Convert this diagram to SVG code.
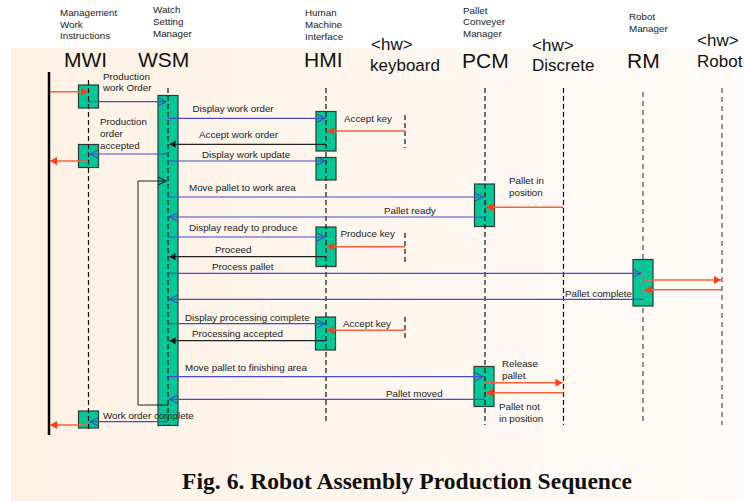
<svg xmlns="http://www.w3.org/2000/svg" width="744" height="501" viewBox="0 0 744 501">
<defs>
<linearGradient id="bg" x1="0" y1="0" x2="1" y2="0">
<stop offset="0" stop-color="#fdf1e4"/>
<stop offset="1" stop-color="#fffbf8"/>
</linearGradient>
<marker id="aOpen" markerUnits="userSpaceOnUse" markerWidth="12" markerHeight="12" refX="8" refY="4" orient="auto" overflow="visible">
<path d="M0,0 L8,4 L0,8" fill="none" stroke="#4848cc" stroke-width="1.1"/>
</marker>
<marker id="aOpenBlk" markerUnits="userSpaceOnUse" markerWidth="12" markerHeight="12" refX="8" refY="4" orient="auto" overflow="visible">
<path d="M0,0 L8,4 L0,8" fill="none" stroke="#222" stroke-width="1.1"/>
</marker>
<marker id="aRed" markerUnits="userSpaceOnUse" markerWidth="12" markerHeight="12" refX="7" refY="4" orient="auto" overflow="visible">
<path d="M0,0 L7,4 L0,8 Z" fill="#ff3c14"/>
</marker>
<marker id="aBlk" markerUnits="userSpaceOnUse" markerWidth="12" markerHeight="12" refX="6" refY="3.5" orient="auto" overflow="visible">
<path d="M0,0 L6,3.5 L0,7 Z" fill="#111"/>
</marker>
</defs>
<style>
.sm{font-family:"Liberation Sans",Arial,sans-serif;font-size:9.8px;fill:#222}
.big{font-family:"Liberation Sans",Arial,sans-serif;font-size:21px;fill:#111}
.hw{font-family:"Liberation Sans",Arial,sans-serif;font-size:17px;fill:#111}
.cap{font-family:"Liberation Serif","Times New Roman",serif;font-size:23.6px;font-weight:bold;fill:#111}
.ll{stroke:#111;stroke-width:1.2;stroke-dasharray:5 3;fill:none}
.llg{stroke:#888;stroke-width:1.8;stroke-dasharray:5 4;fill:none}
.act{fill:#00c896;stroke:#2b3b35;stroke-width:1.2}
.blue{stroke:#4848cc;stroke-width:1.2;fill:none;marker-end:url(#aOpen)}
.red{stroke:#f8603c;stroke-width:1.5;fill:none;marker-end:url(#aRed)}
.blk{stroke:#222;stroke-width:1.2;fill:none;marker-end:url(#aBlk)}
.loop{stroke:#222;stroke-width:1;fill:none;marker-end:url(#aOpenBlk)}
</style>
<rect x="0" y="0" width="744" height="501" fill="#ffffff"/>
<rect x="11" y="48" width="733" height="453" fill="url(#bg)"/>

<g id="actor">
<line x1="49" y1="72" x2="49" y2="435" stroke="#000" stroke-width="2.5"/>
</g>

<g id="MWI">
<text class="sm" x="60" y="16">Management</text>
<text class="sm" x="60" y="27.5">Work</text>
<text class="sm" x="60" y="39">Instructions</text>
<text class="big" x="64" y="67">MWI</text>
<rect class="act" x="78.5" y="85" width="20" height="23"/>
<rect class="act" x="78.5" y="144.5" width="20" height="23"/>
<rect class="act" x="78.5" y="411" width="20" height="17"/>
<line class="ll" x1="88.5" y1="80" x2="88.5" y2="432"/>
</g>

<g id="WSM">
<text class="sm" x="153" y="13">Watch</text>
<text class="sm" x="153" y="25">Setting</text>
<text class="sm" x="153" y="36.5">Manager</text>
<text class="big" x="138" y="67">WSM</text>
<rect class="act" x="158" y="95.5" width="20" height="330"/>
<line class="ll" x1="168" y1="88" x2="168" y2="425"/>
</g>

<g id="HMI">
<text class="sm" x="305" y="16">Human</text>
<text class="sm" x="305" y="28">Machine</text>
<text class="sm" x="305" y="40">Interface</text>
<text class="big" x="304" y="67">HMI</text>
<rect class="act" x="316" y="111.5" width="20" height="39.5"/>
<rect class="act" x="316" y="157.5" width="20" height="22.5"/>
<rect class="act" x="316" y="227" width="20" height="39.5"/>
<rect class="act" x="315.5" y="317" width="20" height="33"/>
<line class="ll" x1="326" y1="88" x2="326" y2="421"/>
</g>

<g id="keyboard">
<text class="hw" x="371" y="50">&lt;hw&gt;</text>
<text class="hw" x="370" y="70.5">keyboard</text>
<line class="ll" x1="405" y1="115" x2="405" y2="148"/>
<line class="ll" x1="405" y1="233" x2="405" y2="264"/>
<line class="ll" x1="405" y1="317" x2="405" y2="341"/>
</g>

<g id="PCM">
<text class="sm" x="463" y="13.5">Pallet</text>
<text class="sm" x="463" y="25">Conveyer</text>
<text class="sm" x="463" y="36.5">Manager</text>
<text class="big" x="462" y="67.5">PCM</text>
<rect class="act" x="474.5" y="184" width="20" height="42.5"/>
<rect class="act" x="474" y="366.5" width="20" height="40"/>
<line class="ll" x1="485" y1="88" x2="485" y2="425"/>
</g>

<g id="Discrete">
<text class="hw" x="532" y="51">&lt;hw&gt;</text>
<text class="hw" x="532" y="70.5">Discrete</text>
<line class="ll" x1="563.5" y1="88" x2="563.5" y2="425"/>
</g>

<g id="RM">
<text class="sm" x="629" y="20">Robot</text>
<text class="sm" x="629" y="31.5">Manager</text>
<text class="big" x="627" y="67.5">RM</text>
<rect class="act" x="633" y="259.5" width="20" height="46.5"/>
<line class="llg" x1="643" y1="92" x2="643" y2="425"/>
</g>

<g id="Robot">
<text class="hw" x="697" y="46">&lt;hw&gt;</text>
<text class="hw" x="697" y="67">Robot</text>
<line class="llg" x1="722" y1="88" x2="722" y2="425"/>
</g>

<g id="connectors">
<line class="red" x1="50" y1="91.7" x2="88" y2="91.7"/>
<line class="blue" x1="88.5" y1="101.7" x2="166" y2="101.7"/>
<text class="sm" x="103" y="79.5">Production</text>
<text class="sm" x="103" y="91">work Order</text>

<line class="blue" x1="168" y1="118.3" x2="325" y2="118.3"/>
<text class="sm" x="192.5" y="111.7">Display work order</text>

<line class="red" x1="405" y1="131" x2="327" y2="131"/>
<text class="sm" x="344" y="122">Accept key</text>

<line class="blk" x1="326" y1="144.3" x2="169.5" y2="144.3"/>
<text class="sm" x="199" y="137.5">Accept work order</text>

<line class="blue" x1="168" y1="154" x2="90" y2="154"/>
<text class="sm" x="100" y="125">Production</text>
<text class="sm" x="100" y="137">order</text>
<text class="sm" x="100" y="149">accepted</text>

<line class="red" x1="88" y1="161" x2="50" y2="161"/>

<line class="blue" x1="168" y1="161" x2="325" y2="161"/>
<text class="sm" x="202" y="157.5">Display work update</text>

<path class="loop" d="M168,405 H138 V181 H166"/>

<line class="blue" x1="168" y1="197" x2="483" y2="197"/>
<text class="sm" x="189" y="191">Move pallet to work area</text>

<line class="red" x1="563.5" y1="207.3" x2="486" y2="207.3"/>
<text class="sm" x="509" y="184">Pallet in</text>
<text class="sm" x="509" y="196">position</text>

<line class="blue" x1="485" y1="217" x2="169.5" y2="217"/>
<text class="sm" x="384" y="214">Pallet ready</text>

<line class="blue" x1="168" y1="237" x2="325" y2="237"/>
<text class="sm" x="189" y="231">Display ready to produce</text>

<line class="red" x1="405" y1="246.7" x2="327" y2="246.7"/>
<text class="sm" x="340.5" y="237">Produce key</text>

<line class="blk" x1="326" y1="256.7" x2="169.5" y2="256.7"/>
<text class="sm" x="215" y="253">Proceed</text>

<line class="blue" x1="168" y1="273.3" x2="641" y2="273.3"/>
<text class="sm" x="212" y="270">Process pallet</text>

<line class="red" x1="643" y1="280" x2="721" y2="280"/>
<line class="red" x1="722" y1="289.7" x2="644.5" y2="289.7"/>

<line class="blue" x1="643" y1="299.3" x2="169.5" y2="299.3"/>
<text class="sm" x="565" y="297">Pallet complete</text>

<line class="blue" x1="168" y1="323.7" x2="325" y2="323.7"/>
<text class="sm" x="185" y="320.5">Display processing complete</text>

<line class="red" x1="405" y1="330.3" x2="327" y2="330.3"/>
<text class="sm" x="343" y="327">Accept key</text>

<line class="blk" x1="326" y1="340.7" x2="169.5" y2="340.7"/>
<text class="sm" x="192" y="337">Processing accepted</text>

<line class="blue" x1="168" y1="376.7" x2="483" y2="376.7"/>
<text class="sm" x="185" y="370.5">Move pallet to finishing area</text>

<line class="red" x1="485" y1="382.7" x2="562.5" y2="382.7"/>
<text class="sm" x="502" y="367">Release</text>
<text class="sm" x="502" y="379">pallet</text>

<line class="red" x1="563.5" y1="392.7" x2="486" y2="392.7"/>
<text class="sm" x="499" y="410">Pallet not</text>
<text class="sm" x="499" y="421.5">in position</text>

<line class="blue" x1="485" y1="399.3" x2="169.5" y2="399.3"/>
<text class="sm" x="386" y="397">Pallet moved</text>

<line class="blue" x1="168" y1="421.7" x2="90" y2="421.7"/>
<text class="sm" x="103" y="418.5">Work order complete</text>

<line class="red" x1="88" y1="425" x2="50" y2="425"/>
</g>

<text class="cap" x="407" y="489" text-anchor="middle">Fig. 6. Robot Assembly Production Sequence</text>
</svg>
